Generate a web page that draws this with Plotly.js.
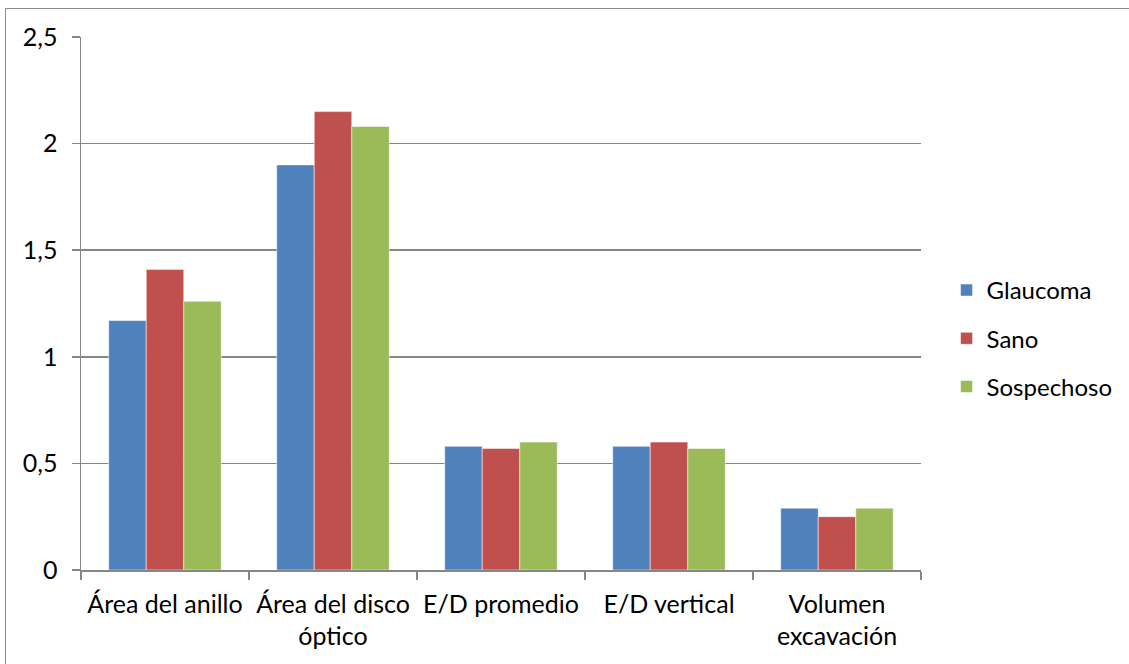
<!DOCTYPE html>
<html><head><meta charset="utf-8">
<script src="https://cdn.plot.ly/plotly-3.0.1.min.js"></script>
<style>
html,body{margin:0;padding:0;background:#fff;}
#frame{position:absolute;left:5px;top:8px;width:1140px;height:680px;border:1.5px solid #8c8c8c;box-sizing:border-box;}
#chart{position:absolute;left:0;top:0;width:1129px;height:664px;}
</style></head>
<body>
<div id="frame"></div>
<div id="chart"></div>
<script>
const categories = ["Área del anillo", "Área del disco<br>óptico", "E/D promedio", "E/D vertical", "Volumen<br>excavación"];
const seriesNames = ["Glaucoma", "Sano", "Sospechoso"];
const glaucoma = [1.17, 1.90, 0.58, 0.58, 0.29];
const sano = [1.41, 2.15, 0.57, 0.60, 0.25];
const sospechoso = [1.26, 2.08, 0.60, 0.57, 0.29];
const yTicks = [0, 0.5, 1, 1.5, 2, 2.5];
const colors = ["#4f81bd", "#c0504d", "#9bbb59"];
const values = [glaucoma, sano, sospechoso];

const traces = seriesNames.map((n, i) => ({
  type: "bar", name: n, x: categories, y: values[i],
  marker: {color: colors[i], line: {color: "rgba(255,255,255,0.5)", width: 1}},
  legendgroup: "g" + i
}));

const layout = {
  width: 1129, height: 664,
  margin: {l: 81, r: 208, t: 37, b: 94, autoexpand: false},
  paper_bgcolor: "rgba(0,0,0,0)", plot_bgcolor: "rgba(0,0,0,0)",
  separators: ",.",
  font: {family: "Lato, 'Open Sans', sans-serif", size: 25, color: "#000"},
  bargap: 0.33, bargroupgap: 0,
  showlegend: true,
  legend: {xref: "container", yref: "container", x: 0.8384, y: 0.4902, xanchor: "left", yanchor: "middle", font: {size: 24}, tracegroupgap: 14, itemwidth: 30},
  xaxis: {
    type: "category", showline: true, linecolor: "#868686", linewidth: 1.5, automargin: false,
    ticks: "outside", tickson: "boundaries", ticklen: 8, tickcolor: "#868686", tickwidth: 1.5,
    showgrid: false, zeroline: false, tickfont: {size: 25}, ticklabelstandoff: 11
  },
  yaxis: {
    range: [0, 2.5], tickvals: yTicks, showline: true, linecolor: "#868686", linewidth: 1.5, automargin: false,
    ticks: "outside", ticklen: 8, tickcolor: "#868686", tickwidth: 1.5,
    showgrid: true, gridcolor: "#868686", gridwidth: 1.5, zeroline: false,
    tickfont: {size: 25}, ticklabelstandoff: 9
  }
};
Plotly.newPlot("chart", traces, layout, {displayModeBar: false, staticPlot: true});
</script>
</body></html>
